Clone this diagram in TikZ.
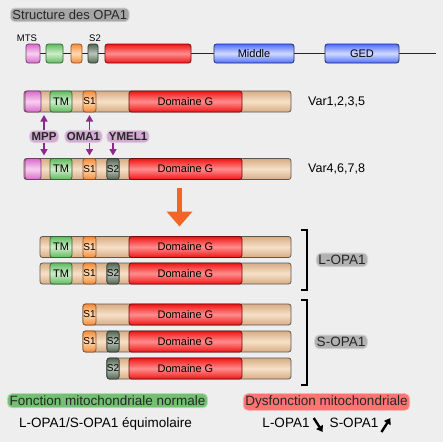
\documentclass[tikz,border=0pt]{standalone}
\usepackage{fontspec}
\setmainfont{Liberation Sans}
\usetikzlibrary{positioning,calc,arrows.meta}
\definecolor{bgcol}{HTML}{EEEEEE}
\definecolor{tanL}{HTML}{F6E0C9}
\definecolor{tanD}{HTML}{D8AC82}
\definecolor{pinkL}{HTML}{F8D0F0}
\definecolor{pinkD}{HTML}{DA6ACB}
\definecolor{greenL}{HTML}{D0EDCB}
\definecolor{greenD}{HTML}{5FBB5F}
\definecolor{oranL}{HTML}{FFDAB3}
\definecolor{oranD}{HTML}{F48B38}
\definecolor{grayL}{HTML}{BAC6BA}
\definecolor{grayD}{HTML}{546454}
\definecolor{redL}{HTML}{FF8E8E}
\definecolor{redD}{HTML}{F01414}
\definecolor{blueL}{HTML}{D2DAFF}
\definecolor{blueD}{HTML}{4E6EFF}
\definecolor{cutcol}{HTML}{8A2A8A}
\definecolor{arrcol}{HTML}{F26522}
\tikzset{
  box/.style={rounded corners=2.5pt, inner sep=0, outer sep=0, line width=0.8pt,
    minimum height=21pt, font=\fontsize{11}{11}\selectfont},
  bar/.style={box, draw=black!65, top color=tanD, bottom color=tanD, middle color=tanL},
  pinkbox/.style={box, draw=pinkD!55!black, top color=pinkD, bottom color=pinkD, middle color=pinkL},
  tmbox/.style={box, draw=greenD!55!black, top color=greenD, bottom color=greenD, middle color=greenL},
  sonebox/.style={box, draw=oranD!60!black, top color=oranD, bottom color=oranD, middle color=oranL,
    font=\fontsize{10}{10}\selectfont},
  stwobox/.style={box, draw=grayD!60!black, top color=grayD, bottom color=grayD, middle color=grayL,
    font=\fontsize{10}{10}\selectfont},
  gbox/.style={box, draw=redD!50!black, top color=redD, bottom color=redD, middle color=redL},
  midbox/.style={box, draw=blueD!40!black, top color=blueD, bottom color=blueD, middle color=blueL},
  glow/.style={fill=#1, draw=#1, draw opacity=0.45, line width=2pt, rounded corners=4pt,
    inner sep=1.5pt, anchor=base, text=black!85},
  lab/.style={anchor=base, inner sep=0, font=\fontsize{9.5}{9.5}\selectfont},
  varlab/.style={anchor=base west, inner sep=0, font=\fontsize{12.5}{12.5}\selectfont},
  cutlab/.style={glow=cutcol!40, font=\bfseries\fontsize{11.5}{11.5}\selectfont},
  grouplab/.style={glow=black!30, font=\fontsize{13.5}{13.5}\selectfont},
  txt/.style={anchor=base, inner sep=0, font=\fontsize{13.5}{13.5}\selectfont},
  cut/.style={cutcol, line width=1.5pt, -{Triangle[width=7pt,length=6.5pt]}, shorten >=3pt},
  bigarrow/.style={arrcol, line width=5pt, -{Triangle[width=25pt,length=15pt]},
    shorten <=8pt, shorten >=10pt},
  bracket/.style={black, line width=2pt},
  small/.style={black, line width=2.4pt, -{Triangle[width=7.5pt,length=6pt]}}
}
\newcommand{\drawdom}[5][bar]{\node[#1, minimum width=#4pt] (#2) at #3 {#5};}

\begin{document}
\begin{tikzpicture}[x=1pt,y=-1pt]

  \fill[bgcol] (0,0) rectangle (443,442);
  \useasboundingbox (0,0) rectangle (443,442);

  \node[glow=black!35, anchor=base west, font=\fontsize{13}{13}\selectfont] (title) at (10,19.5) {Structure des OPA1};

  % structure
  \coordinate (lstart) at (26,53.5);
  \coordinate (lend) at (436,53.5);
  \draw[black!85, line width=1.5pt] (lstart) -- (lend);
  \drawdom[pinkbox, minimum height=19pt]{mts}{(33,53.5)}{14}{}
  \drawdom[tmbox, minimum height=19pt]{tm}{(54.5,53.5)}{17}{}
  \drawdom[sonebox, minimum height=19pt]{sone}{(76.5,53.5)}{11}{}
  \drawdom[stwobox, minimum height=19pt]{stwo}{(93,53.5)}{10}{}
  \drawdom[gbox, minimum height=19pt]{gdom}{(148,53.5)}{86}{}
  \drawdom[midbox, minimum height=19pt]{middle}{(254,53.5)}{80}{Middle}
  \drawdom[midbox, minimum height=19pt]{ged}{(362,53.5)}{74}{GED}
  \node[lab] (mtslab) at (27,41) {MTS};
  \node[lab] (stwolab) at (95,41) {S2};

  % Var1,2,3,5
  \drawdom{v1}{(157.5,101.5)}{267}{}
  \drawdom[pinkbox]{v1mts}{(33,101.5)}{16}{}
  \drawdom[tmbox]{v1tm}{(61,101.5)}{22}{TM}
  \drawdom[sonebox]{v1sa}{(89.5,101.5)}{13}{S1}
  \drawdom[gbox]{v1g}{(185.5,101.5)}{113}{Domaine G}
  \node[varlab] (var1) at (308,105.7) {Var1,2,3,5};

  % Var4,6,7,8
  \drawdom{v4}{(157.5,169)}{267}{}
  \drawdom[pinkbox]{v4mts}{(33,169)}{16}{}
  \drawdom[tmbox]{v4tm}{(61,169)}{22}{TM}
  \drawdom[sonebox]{v4sa}{(89.5,169)}{13}{S1}
  \drawdom[stwobox]{v4sb}{(113,169)}{12}{S2}
  \drawdom[gbox]{v4g}{(185.5,169)}{113}{Domaine G}
  \node[varlab] (var4) at (308,172.8) {Var4,6,7,8};

  % proteases
  \node[cutlab] (mpp) at (44,140.5) {MPP};
  \node[cutlab] (oma) at (83.5,140.5) {OMA1};
  \node[cutlab] (ymel) at (128,140.5) {YMEL1};
  \draw[cut] (mpp.north) -- (mpp.north |- v1.south);
  \draw[cut] (mpp.south) -- (mpp.south |- v4.north);
  \draw[cut] (oma.north -| v1sa) -- (v1sa.south);
  \draw[cut] (oma.south -| v4sa) -- (v4sa.north);
  \draw[cut] (ymel.south -| v4sb) -- (v4sb.north);

  % L-OPA1
  \drawdom{la}{(165.5,247)}{251}{}
  \drawdom[tmbox]{latm}{(61,247)}{22}{TM}
  \drawdom[sonebox]{lasa}{(89.5,247)}{13}{S1}
  \drawdom[gbox]{lag}{(185.5,247)}{113}{Domaine G}
  \drawdom{lb}{(165.5,273.5)}{251}{}
  \drawdom[tmbox]{lbtm}{(61,273.5)}{22}{TM}
  \drawdom[sonebox]{lbsa}{(89.5,273.5)}{13}{S1}
  \drawdom[stwobox]{lbsb}{(113,273.5)}{12}{S2}
  \drawdom[gbox]{lbg}{(185.5,273.5)}{113}{Domaine G}

  \coordinate (ax) at (179.5,0);
  \draw[bigarrow] (v4.south -| ax) -- (la.north -| ax);

  % S-OPA1
  \drawdom{sa}{(187,314.5)}{208}{}
  \drawdom[sonebox]{sasa}{(89.5,314.5)}{13}{S1}
  \drawdom[gbox]{sag}{(185.5,314.5)}{113}{Domaine G}
  \drawdom{sb}{(187,341.5)}{208}{}
  \drawdom[sonebox]{sbsa}{(89.5,341.5)}{13}{S1}
  \drawdom[stwobox]{sbsb}{(113,341.5)}{12}{S2}
  \drawdom[gbox]{sbg}{(185.5,341.5)}{113}{Domaine G}
  \drawdom{sc}{(199,368.5)}{184}{}
  \drawdom[stwobox]{scsb}{(113,368.5)}{12}{S2}
  \drawdom[gbox]{scg}{(185.5,368.5)}{113}{Domaine G}

  \draw[bracket] (301,230) -- (307,230) -- (307,290) -- (301,290);
  \draw[bracket] (301,300) -- (307,300) -- (307,385) -- (301,385);
  \node[grouplab] (lopa) at (342,264.5) {L-OPA1};
  \node[grouplab] (sopa) at (341,346.5) {S-OPA1};

  % bottom
  \node[glow=green!55!black!55, font=\fontsize{13.5}{13.5}\selectfont] (normal) at (107.5,405.5) {Fonction mitochondriale normale};
  \node[txt] (equi) at (105.5,427) {L-OPA1/S-OPA1 équimolaire};
  \node[glow=red!55, font=\fontsize{13.5}{13.5}\selectfont] (dysf) at (326.5,405.5) {Dysfonction mitochondriale};
  \node[txt] (lo) at (286,427) {L-OPA1};
  \node[txt] (so) at (354,427) {S-OPA1};
  \draw[small] ($(lo.base east)+(4,-9)$) -- ($(lo.base east)+(13,5)$);
  \draw[small] ($(so.base east)+(3,5)$) -- ($(so.base east)+(12,-9)$);

\end{tikzpicture}
\end{document}
